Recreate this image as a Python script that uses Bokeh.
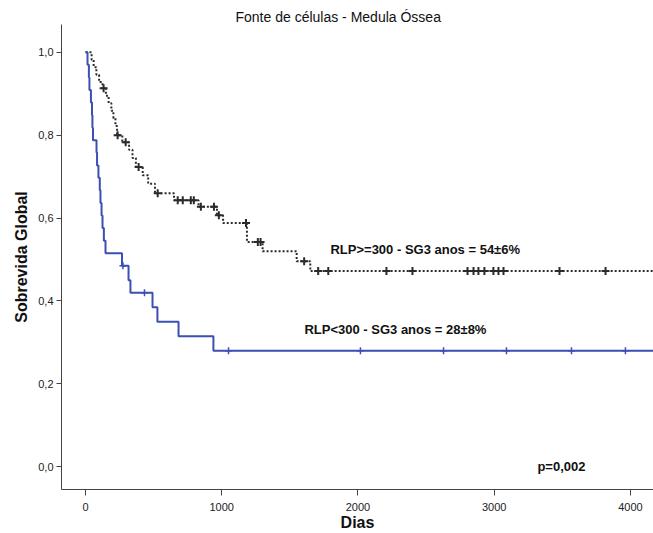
from bokeh.plotting import figure
from bokeh.models import Range1d, FixedTicker, Label, Title
from bokeh.embed import file_html
from bokeh.resources import INLINE
import numpy as np

# RLP >= 300 group (event times in days, survival after each event)
times_hi = [0, 45, 60, 80, 100, 125, 150, 170, 190, 205, 220, 232, 270, 320, 345, 370,
            420, 460, 510, 650, 830, 965, 1010, 1185, 1300, 1550, 1650]
surv_hi = [1.0, 0.982, 0.964, 0.946, 0.928, 0.913, 0.895, 0.877, 0.859, 0.841, 0.822, 0.80,
           0.783, 0.765, 0.745, 0.723, 0.703, 0.683, 0.66, 0.643, 0.627, 0.607, 0.588,
           0.542, 0.52, 0.496, 0.472]
censor_hi = [133, 236, 295, 390, 530, 677, 714, 773, 795, 847, 943, 979, 1178, 1265, 1285,
             1605, 1708, 1782, 2209, 2400, 2804, 2848, 2884, 2928, 2994, 3031, 3068, 3479, 3817]

# RLP < 300 group
times_lo = [0, 15, 25, 29, 40, 48, 51, 55, 81, 85, 95, 105, 110, 118, 125, 135, 147, 268,
            316, 330, 492, 528, 683, 939]
surv_lo = [1.0, 0.970, 0.939, 0.909, 0.879, 0.848, 0.818, 0.788, 0.758, 0.727, 0.697, 0.667,
           0.636, 0.606, 0.576, 0.545, 0.515, 0.485, 0.45, 0.42, 0.385, 0.35, 0.315, 0.28]
censor_lo = [275, 433, 1050, 2018, 2628, 3090, 3567, 3963]

x_ticks = [0, 1000, 2000, 3000, 4000]
y_ticks = [0.0, 0.2, 0.4, 0.6, 0.8, 1.0]
y_tick_labels = ["0,0", "0,2", "0,4", "0,6", "0,8", "1,0"]

title_text = "Fonte de células - Medula Óssea"
label_hi = "RLP>=300 - SG3 anos = 54±6%"
label_lo = "RLP<300 - SG3 anos = 28±8%"
p_text = "p=0,002"

END_T = 4400
FONT = "Liberation Sans"
BLACK = "#2b2b2b"
BLUE = "#3c4fb2"


def surv_at(times, surv, t):
    idx = np.searchsorted(np.array(times), t, side="right") - 1
    return surv[idx]


p = figure(width=653, height=533, output_backend="svg", toolbar_location=None,
           x_range=Range1d(-176, 4169), y_range=Range1d(-0.055, 1.067),
           min_border_left=61, min_border_right=0, min_border_top=24, min_border_bottom=43)
p.title = Title(text=title_text, align="left", offset=174, standoff=0,
                vertical_align="bottom",
                text_font=FONT, text_font_size="14px", text_font_style="normal",
                text_color="#111111")
p.outline_line_color = None
p.xgrid.visible = False
p.ygrid.visible = False
p.background_fill_color = "white"
p.border_fill_color = "white"

for ax in (p.xaxis[0], p.yaxis[0]):
    ax.axis_line_color = "#444444"
    ax.major_tick_line_color = "#444444"
    ax.minor_tick_line_color = None
    ax.major_tick_in = 0
    ax.major_tick_out = 6
    ax.major_label_text_font = FONT
    ax.major_label_text_font_size = "11px"
    ax.major_label_text_color = "#222222"
    ax.axis_label_text_font = FONT
    ax.axis_label_text_font_style = "bold"
    ax.axis_label_text_font_size = "16px"
    ax.axis_label_text_color = "#111111"

p.xaxis.major_label_standoff = 7
p.xaxis.axis_label_standoff = 0
p.yaxis.major_label_standoff = 3
p.yaxis.major_tick_out = 5

p.xaxis.ticker = FixedTicker(ticks=x_ticks)
p.yaxis.ticker = FixedTicker(ticks=y_ticks)
p.yaxis.major_label_overrides = {t: l for t, l in zip(y_ticks, y_tick_labels)}
p.xaxis.axis_label = "Dias"
p.yaxis.axis_label = "Sobrevida Global"

# step curves
xh = list(times_hi) + [END_T]
yh = list(surv_hi) + [surv_hi[-1]]
p.step(xh, yh, mode="after", line_color=BLACK, line_width=2, line_dash="2 2")
xl = list(times_lo) + [END_T]
yl = list(surv_lo) + [surv_lo[-1]]
p.step(xl, yl, mode="after", line_color=BLUE, line_width=2)

# censor marks
ch_y = [surv_at(times_hi, surv_hi, t) for t in censor_hi]
p.scatter(censor_hi, ch_y, marker="cross", size=8, line_color=BLACK, line_width=2)
cl_y = [surv_at(times_lo, surv_lo, t) for t in censor_lo]
p.scatter(censor_lo, cl_y, marker="cross", size=7, line_color=BLUE, line_width=1.5)

for txt, x, y in [(label_hi, 1798, 0.523), (label_lo, 1607, 0.33), (p_text, 3317, 0.0)]:
    p.add_layout(Label(x=x, y=y, text=txt, text_font=FONT, text_font_size="13px",
                       text_font_style="bold", text_color="#111111",
                       text_baseline="middle", text_align="left"))

open("out.html", "w").write(file_html(p, INLINE))
